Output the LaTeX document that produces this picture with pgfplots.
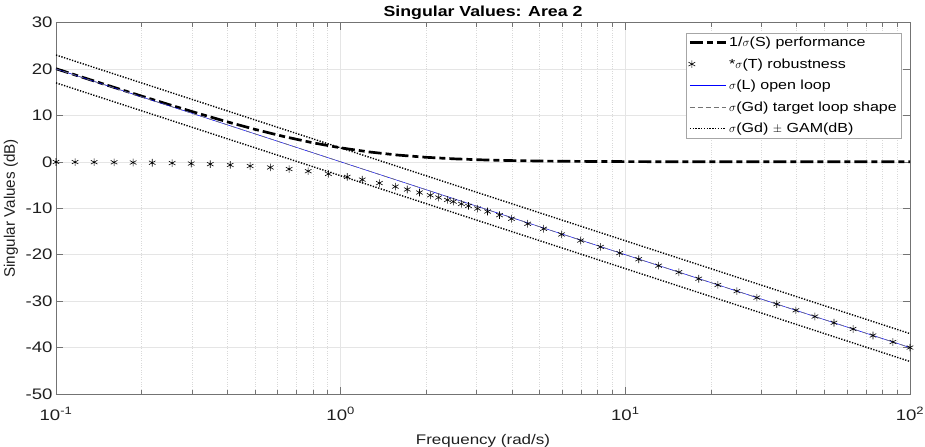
\documentclass[border=0pt]{standalone}
\usepackage{pgfplots}
\pgfplotsset{compat=1.18}
\usepackage{fontspec}
\setmainfont{Liberation Sans}[FakeStretch=1.22]
\newfontfamily\plainsans{Liberation Sans}
\definecolor{axcol}{gray}{0.45}
\definecolor{txtcol}{gray}{0.12}
\pgfplotsset{starlegend/.style={legend image code/.code={\draw[##1] plot coordinates {(4bp,0bp)};}}}
\begin{document}
\begin{tikzpicture}
\begin{axis}[
  scale only axis,
  width=854bp, height=371.5bp,
  xmode=log,
  xmin=0.1, xmax=100,
  ymin=-50, ymax=30,
  xtick={0.1,1,10,100},
  xticklabels={10\textsuperscript{-1},10\textsuperscript{0},10\textsuperscript{1},10\textsuperscript{2}},
  ytick={-50,-40,-30,-20,-10,0,10,20,30},
  yticklabels={-50,-40,-30,-20,-10,0,10,20,30},
  minor x tick num=8,
  tick align=inside,
  major tick length=7bp,
  minor tick length=4bp,
  axis line style={axcol, line width=0.8pt},
  every tick/.style={axcol, line width=0.6pt},
  grid=both,
  major grid style={gray!20, line width=0.6pt},
  minor grid style={gray!30, dotted, line width=0.5pt},
  ymajorgrids=true, yminorgrids=false,
  xmajorgrids=true, xminorgrids=true,
  tick label style={font=\fontsize{15.3}{18}\selectfont, text=txtcol},
  xticklabel style={yshift=-10bp},
  title={\bfseries Singular Values: Area 2},
  title style={font=\fontsize{14.6}{16}\selectfont, at={(axis description cs:0.5,1)}, anchor=south, inner sep=0pt, yshift=-3bp},
  xlabel={Frequency (rad/s)},
  ylabel={\plainsans Singular Values (dB)},
  xlabel style={font=\fontsize{14}{16}\selectfont, text=txtcol, at={(axis description cs:0.5,0)}, anchor=north, inner sep=0pt, yshift=-40bp},
  ylabel style={font=\fontsize{15.3}{17}\selectfont, text=txtcol, at={(axis description cs:0,0.5)}, anchor=center, yshift=45bp},
  legend style={at={(0.9895,0.972)}, anchor=north east, draw=gray!70, fill=white,
    font=\fontsize{13.2}{16}\selectfont, row sep=6.5bp, inner sep=2bp},
  legend cell align=left,
  legend image code/.code={\draw[#1] (2bp,0bp) -- (38bp,0bp);},
]
% 1/sigma(S) performance
\addplot[black, line width=2.7pt, dash pattern=on 13bp off 4bp on 6bp off 4bp] coordinates {
(0.1,20.043) (0.12589,18.069) (0.15849,16.108) (0.19953,14.169) (0.25119,12.266)
(0.31623,10.414) (0.39811,8.639) (0.50119,6.973) (0.63096,5.455) (0.79433,4.125)
(1.0,3.010) (1.2589,2.125) (1.5849,1.456) (1.9953,0.973) (2.5119,0.637)
(3.1623,0.414) (3.9811,0.266) (5.0119,0.170) (6.3096,0.108) (10,0.043)
(17.783,0.0137) (31.623,0.0043) (100,0.0004)};
\addlegendentry{1/$\sigma$(S) performance}
% sigma(T) robustness
\addplot[only marks, mark=asterisk, mark size=3.8bp, black, mark options={line width=0.6pt}, starlegend] coordinates {
(0.1,-0.043) (0.11668,-0.0587) (0.13614,-0.0798) (0.15996,-0.1099) (0.18664,-0.1487)
(0.21777,-0.201) (0.25586,-0.2753) (0.29854,-0.3707) (0.34834,-0.4993) (0.40926,-0.6726)
(0.48084,-0.9033) (0.56624,-1.207) (0.65917,-1.567) (0.76913,-2.018) (0.90573,-2.601)
(1.0544,-3.246) (1.1912,-3.836) (1.3677,-4.580) (1.5560,-5.342) (1.7140,-5.952)
(1.8923,-6.610) (2.0654,-7.214) (2.2080,-7.690) (2.3714,-8.211) (2.4889,-8.569)
(2.6546,-9.056) (2.8119,-9.497) (3.0269,-10.070) (3.2810,-10.706) (3.6141,-11.480)
(3.9811,-12.266) (4.5394,-13.347) (5.1642,-14.420) (5.9704,-15.641) (6.9663,-16.948)
(8.1846,-18.325) (9.5499,-19.647) (11.143,-20.976) (13.092,-22.366) (15.417,-23.778)
(18.113,-25.173) (21.135,-26.510) (24.660,-27.847) (28.973,-29.242) (34.041,-30.641)
(39.719,-31.980) (46.345,-33.320) (54.075,-34.660) (63.096,-36.000) (74.131,-37.400)
(87.096,-38.800) (100,-40.0)};
\addlegendentry{*$\sigma$(T) robustness}
% sigma(L) open loop
\addplot[blue, line width=0.5pt] coordinates {(0.1,20) (100,-40)};
\addlegendentry{$\sigma$(L) open loop}
% sigma(Gd) target loop shape
\addplot[gray!90!black, line width=0.6pt, dash pattern=on 5bp off 3bp] coordinates {(0.1,20) (100,-40)};
\addlegendentry{$\sigma$(Gd) target loop shape}
% sigma(Gd) +/- GAM
\addplot[black, line width=1.4pt, dash pattern=on 1.3bp off 1.5bp] coordinates {(0.1,23) (100,-37)};
\addlegendentry{$\sigma$(Gd) $\pm$ GAM(dB)}
\addplot[black, line width=1.4pt, dash pattern=on 1.3bp off 1.5bp, forget plot] coordinates {(0.1,17) (100,-43)};
\end{axis}
\pgfresetboundingbox
\path[use as bounding box] ([xshift=-56bp,yshift=-53bp]current axis.south west) rectangle ++(925bp,447bp);
\end{tikzpicture}
\end{document}
